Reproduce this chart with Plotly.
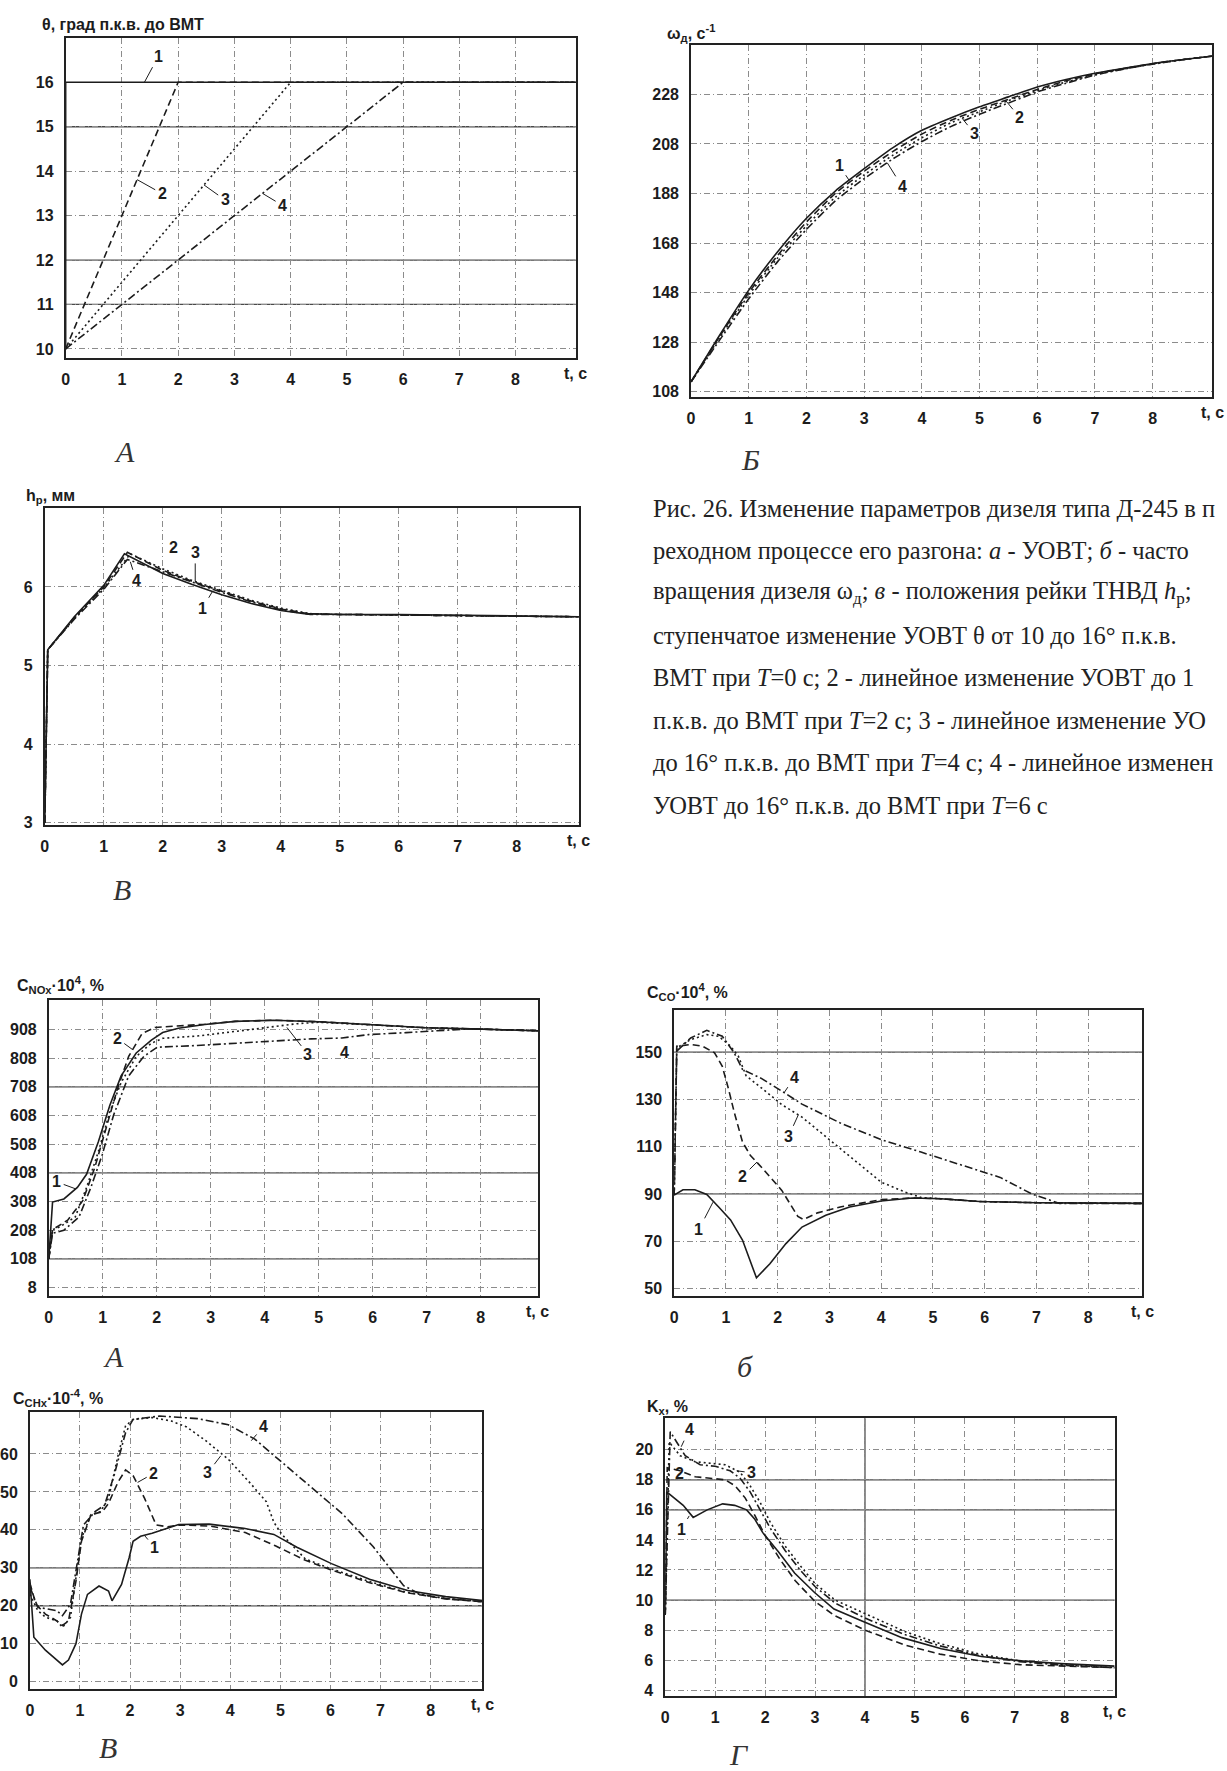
import plotly.graph_objects as go

W, H = 1227, 1771
INK = "#1c1c1c"
SANS = "Liberation Sans, Arial, sans-serif"
SERIF = "Liberation Serif, Times New Roman, serif"

# ---------------- data ----------------
# Panel A: injection advance angle theta
theta_t1 = [0, 0, 9.1]
theta_y1 = [10, 16, 16]
theta_t2 = [0, 2, 9.1]
theta_y2 = [10, 16, 16]
theta_t3 = [0, 4, 9.1]
theta_y3 = [10, 16, 16]
theta_t4 = [0, 6, 9.1]
theta_y4 = [10, 16, 16]
theta_yticks = [10, 11, 12, 13, 14, 15, 16]

# Panel B: engine speed omega
omega_t = [0, 0.5, 1, 1.5, 2, 2.5, 3, 3.5, 4, 4.5, 5, 5.5, 6, 6.5, 7, 7.5, 8, 8.5, 9.05]
omega_1 = [112, 131, 149, 164.5, 178, 189, 198, 206.5, 213.5, 218.5, 223, 227, 231, 234, 236.5, 238.5, 240.5, 242, 243.5]
omega_2 = [112, 130.5, 148, 163, 176.5, 188, 197, 205, 212, 217.5, 222, 226, 230, 233.5, 236.3, 238.4, 240.4, 242, 243.5]
omega_3 = [112, 130, 147, 162, 175, 186.5, 195.5, 203.5, 210.5, 216.5, 221, 225.5, 229.5, 233, 236, 238.3, 240.3, 242, 243.5]
omega_4 = [112, 129, 145.5, 160.5, 173.5, 185, 194, 202, 209, 215, 220, 224.5, 229, 232.5, 235.8, 238.2, 240.2, 241.9, 243.5]
omega_yticks = [108, 128, 148, 168, 188, 208, 228]

# Panel V: rack position h_p
hp_t1 = [0, 0.05, 0.5, 1.0, 1.35, 2, 2.5, 3, 3.5, 4, 4.4, 5, 6, 7, 8, 9.1]
hp_y1 = [3, 5.2, 5.62, 6.02, 6.42, 6.17, 6.03, 5.9, 5.79, 5.7, 5.66, 5.65, 5.65, 5.64, 5.63, 5.62]
hp_t2 = [0, 0.05, 0.5, 1.0, 1.4, 2, 2.5, 3, 3.5, 4, 4.45, 5, 9.1]
hp_y2 = [3, 5.2, 5.61, 6.0, 6.44, 6.21, 6.07, 5.94, 5.82, 5.72, 5.66, 5.65, 5.62]
hp_t3 = [0, 0.05, 0.5, 1.0, 1.45, 2, 2.5, 3, 3.5, 4, 4.5, 5, 9.1]
hp_y3 = [3, 5.2, 5.6, 5.99, 6.42, 6.23, 6.08, 5.95, 5.83, 5.73, 5.66, 5.65, 5.62]
hp_t4 = [0, 0.05, 0.5, 1.0, 1.4, 2, 2.5, 3, 3.5, 4, 4.5, 5, 9.1]
hp_y4 = [3, 5.2, 5.59, 5.97, 6.35, 6.19, 6.06, 5.93, 5.81, 5.71, 5.65, 5.65, 5.62]
hp_yticks = [3, 4, 5, 6]

# Panel NOx
nox_t1 = [0, 0.07, 0.28, 0.53, 0.7, 0.92, 1.13, 1.34, 1.62, 1.9, 2.11, 2.4, 2.89, 3.45, 4.16, 5.0, 5.92, 6.98, 8.03, 9.1]
nox_y1 = [108, 306, 317, 357, 403, 517, 643, 746, 826, 871, 897, 912, 925, 936, 940, 935, 925, 914, 909, 903]
nox_t2 = [0, 0.07, 0.35, 0.63, 0.85, 1.06, 1.27, 1.48, 1.73, 1.97, 2.4, 2.89, 3.45, 4.16, 5.0, 5.92, 6.98, 8.03, 9.1]
nox_y2 = [108, 210, 243, 311, 425, 563, 700, 814, 894, 915, 920, 926, 936, 940, 935, 925, 914, 909, 903]
nox_t3 = [0, 0.07, 0.21, 0.49, 0.7, 0.92, 1.13, 1.34, 1.62, 1.9, 2.11, 2.75, 3.45, 4.16, 4.6, 5.0, 5.92, 6.98, 8.03, 9.1]
nox_y3 = [108, 210, 220, 254, 357, 483, 620, 723, 814, 860, 877, 885, 901, 917, 928, 933, 925, 914, 909, 903]
nox_t4 = [0, 0.07, 0.28, 0.56, 0.78, 0.99, 1.2, 1.48, 1.76, 2.01, 2.75, 3.45, 4.16, 4.86, 5.43, 5.92, 6.62, 7.33, 7.8, 8.03, 9.1]
nox_y4 = [108, 197, 208, 254, 357, 471, 609, 746, 814, 846, 852, 859, 868, 875, 878, 890, 897, 906, 910, 909, 903]
nox_yticks = [8, 108, 208, 308, 408, 508, 608, 708, 808, 908]

# Panel CO
co_t1 = [0, 0.17, 0.4, 0.63, 0.86, 1.09, 1.32, 1.59, 1.85, 2.16, 2.47, 2.93, 3.39, 4.0, 4.6, 5.15, 5.9, 7.0, 9.1]
co_y1 = [89.5, 91.8, 91.8, 89.8, 84.5, 79, 70.5, 54.5, 60.5, 69, 76, 81, 84.5, 87, 88.3, 88, 86.8, 86.3, 86]
co_t2 = [0, 0.05, 0.32, 0.55, 0.78, 0.93, 1.05, 1.16, 1.32, 1.47, 1.7, 2.08, 2.39, 2.5, 2.77, 3.23, 4.0, 4.6, 5.15, 5.9, 7.0, 9.1]
co_y2 = [89.5, 152.5, 153.2, 152.5, 149.7, 144, 134.4, 124.6, 112, 106.4, 101, 91.5, 80.5, 79.2, 82, 84.6, 87.6, 88.3, 88, 86.8, 86.3, 86]
co_t3 = [0, 0.05, 0.32, 0.63, 0.86, 1.09, 1.24, 1.39, 1.7, 2.08, 2.47, 2.93, 3.23, 3.62, 4.0, 4.46, 4.77, 5.15, 5.9, 7.0, 9.1]
co_y3 = [89.5, 151.8, 155.3, 157.4, 156.7, 152.5, 148.3, 140, 134.6, 127.8, 122.5, 114.2, 108.7, 101.8, 95, 90.8, 88.5, 88, 86.8, 86.3, 86]
co_t4 = [0, 0.05, 0.32, 0.63, 0.93, 1.16, 1.32, 1.7, 2.08, 2.47, 3.23, 4.0, 4.77, 5.53, 6.3, 6.91, 7.45, 8.0, 9.1]
co_y4 = [89.5, 150.4, 156, 159.2, 156.7, 149.7, 142.7, 138.7, 133.5, 128, 119.8, 113, 107.7, 102.5, 97, 90, 86, 86, 86]
co_yticks = [50, 70, 90, 110, 130, 150]

# Panel CHx
chx_t1 = [0, 0.02, 0.08, 0.31, 0.54, 0.65, 0.77, 0.92, 1.03, 1.15, 1.38, 1.57, 1.64, 1.83, 1.98, 2.06, 2.21, 2.44, 2.97, 3.58, 4.27, 4.87, 5.33, 6.02, 6.78, 7.54, 8.3, 9.1]
chx_y1 = [27, 23, 11.7, 8.3, 5.7, 4.4, 5.7, 10, 17.8, 23, 25.2, 23.9, 21.3, 25.6, 32.6, 37, 38.3, 39.1, 41.4, 41.5, 40.4, 38.8, 35.4, 31.1, 27, 24, 22.4, 21.3]
chx_t2 = [0, 0.12, 0.31, 0.54, 0.65, 0.77, 0.92, 1.03, 1.22, 1.45, 1.57, 1.76, 1.91, 2.06, 2.29, 2.52, 2.75, 3.0, 3.6, 4.3, 4.9, 5.5, 6.0, 6.8, 7.5, 8.3, 9.1]
chx_y2 = [26, 20.4, 17.8, 16, 14.8, 16, 26.5, 37, 44, 44.8, 47, 52.6, 55.8, 54.3, 48.3, 41.3, 40.8, 41.3, 41, 39.3, 35.8, 32, 29.5, 26, 23.5, 21.8, 21]
chx_t3 = [0, 0.16, 0.31, 0.54, 0.65, 0.81, 0.92, 1.03, 1.22, 1.41, 1.57, 1.76, 1.91, 2.06, 2.44, 2.82, 3.13, 3.51, 3.96, 4.42, 4.72, 4.87, 5.03, 5.5, 6.0, 6.8, 7.5, 8.3, 9.1]
chx_y3 = [23, 18.7, 17, 16, 14.3, 16.9, 27.4, 37.8, 44, 44.8, 48.3, 59.6, 67.4, 69.1, 69.6, 68.7, 67.1, 63.5, 58.6, 52, 47.4, 42, 38.8, 32.3, 29.8, 26.3, 23.6, 21.9, 21]
chx_t4 = [0, 0.16, 0.54, 0.65, 0.81, 0.92, 1.07, 1.3, 1.49, 1.68, 1.91, 2.06, 2.59, 3.35, 3.96, 4.49, 5.03, 5.63, 6.24, 6.85, 7.15, 7.46, 7.8, 8.3, 9.1]
chx_y4 = [25, 19.6, 18.7, 17.4, 20.4, 29.1, 41.3, 44.8, 46.5, 54.3, 65.6, 69.1, 70, 69.3, 67.7, 63.9, 57.9, 51.1, 44.2, 35.6, 30.5, 25.3, 23, 21.9, 21]
chx_yticks = [0, 10, 20, 30, 40, 50, 60]

# Panel Kx
kx_t1 = [0, 0.03, 0.36, 0.56, 0.84, 1.15, 1.39, 1.63, 1.79, 1.95, 2.27, 2.59, 2.99, 3.38, 3.94, 4.74, 5.53, 6.33, 7.13, 7.92, 9.0]
kx_y1 = [9, 17.2, 16.3, 15.5, 16, 16.4, 16.3, 16, 15.4, 14.5, 13.2, 11.8, 10.5, 9.4, 8.6, 7.5, 6.76, 6.24, 5.95, 5.77, 5.6]
kx_t2 = [0, 0.04, 0.3, 0.6, 0.9, 1.2, 1.4, 1.6, 1.8, 2.0, 2.3, 2.6, 3.0, 3.4, 4.0, 4.8, 5.5, 6.3, 7.1, 8.0, 9.0]
kx_y2 = [9, 18.8, 18.6, 18.2, 18.1, 18.0, 17.6, 16.8, 15.6, 14.3, 12.7, 11.3, 9.9, 8.95, 8.0, 7.0, 6.4, 5.95, 5.7, 5.6, 5.5]
kx_t3 = [0, 0.08, 0.3, 0.6, 0.9, 1.2, 1.5, 1.7, 1.9, 2.1, 2.4, 2.7, 3.0, 3.4, 4.0, 4.8, 5.5, 6.3, 7.1, 8.0, 9.0]
kx_y3 = [9, 20.5, 19.6, 19.2, 19.1, 19.0, 18.5, 17.6, 16.5, 15.2, 13.6, 12.3, 11.1, 10.0, 9.1, 7.9, 7.1, 6.4, 5.95, 5.7, 5.5]
kx_t4 = [0, 0.1, 0.4, 0.7, 1.0, 1.3, 1.5, 1.7, 1.9, 2.1, 2.4, 2.7, 3.0, 3.4, 4.0, 4.8, 5.5, 6.3, 7.1, 8.0, 9.0]
kx_y4 = [9, 21.2, 19.6, 19.0, 18.9, 18.6, 18.1, 17.2, 16.0, 14.8, 13.3, 12.0, 10.9, 9.8, 8.8, 7.7, 6.95, 6.3, 5.9, 5.65, 5.5]
kx_yticks = [4, 6, 8, 10, 12, 14, 16, 18, 20]

time_ticks = [0, 1, 2, 3, 4, 5, 6, 7, 8]

# caption, as much of each line as the page shows (the scan is cut at the right edge)
caption_lines = [
    "Рис. 26. Изменение параметров дизеля типа Д-245 в п",
    "реходном процессе его разгона: <i>а</i> - УОВТ; <i>б</i> - часто",
    "вращения дизеля ω<sub>д</sub>; <i>в</i> - положения рейки ТНВД <i>h</i><sub>р</sub>;",
    "ступенчатое изменение УОВТ θ от 10 до 16° п.к.в.",
    "ВМТ при <i>Т</i>=0 с; 2 - линейное изменение УОВТ до 1",
    "п.к.в. до ВМТ при <i>Т</i>=2 с; 3 - линейное изменение УО",
    "до 16° п.к.в. до ВМТ при <i>Т</i>=4 с; 4 - линейное изменен",
    "УОВТ до 16° п.к.в. до ВМТ при <i>Т</i>=6 с",
]

# ---------------- layout description ----------------
DASHES = ["solid", "7px,4px", "2px,3px", "8px,3px,2px,3px"]

panels = [
    dict(box=(59, 38, 572, 359), xr=[0, 9.07], yr=[9.8, 17.0], yt=theta_yticks,
         series=[(theta_t1, theta_y1), (theta_t2, theta_y2), (theta_t3, theta_y3), (theta_t4, theta_y4)],
         title="θ, град п.к.в. до ВМТ", tpos=(33, 25), solid=[15, 12, 11], vsolid=[],
         labels=[("1", 1.4, 16.0, 14, -26), ("2", 1.27, 13.81, 25, 14), ("3", 2.46, 13.69, 21, 15), ("4", 3.5, 13.5, 20, 12)],
         letter=("А", 118, 453), spline=False),
    dict(box=(688, 45, 1212, 398), xr=[0, 9.03], yr=[106, 248], yt=omega_yticks,
         series=[(omega_t, omega_1), (omega_t, omega_2), (omega_t, omega_3), (omega_t, omega_4)],
         title="ω<sub>д</sub>, с<sup>-1</sup>", tpos=(662, 33), solid=[], vsolid=[],
         labels=[("1", 2.74, 193.3, -10, -15), ("4", 3.4, 200.4, 15, 24), ("3", 4.7, 218.3, 12, 15), ("2", 5.45, 225.6, 14, 17)],
         letter=("Б", 748, 461), spline=True),
    dict(box=(38, 510, 575, 828), xr=[0, 9.05], yr=[2.97, 7.0], yt=hp_yticks,
         series=[(hp_t1, hp_y1), (hp_t2, hp_y2), (hp_t3, hp_y3), (hp_t4, hp_y4)],
         title="h<sub>р</sub>, мм", tpos=(17, 498), solid=[], vsolid=[],
         labels=[("2", 2.19, 6.5, None, None), ("3", 2.55, 6.07, 0, -29), ("4", 1.45, 6.32, 6, 19), ("1", 2.84, 5.94, -10, 17)],
         letter=("В", 116, 893), spline=False),
    dict(box=(42, 1003, 534, 1300), xr=[0, 9.06], yr=[-20, 1012], yt=nox_yticks,
         series=[(nox_t1, nox_y1), (nox_t2, nox_y2), (nox_t3, nox_y3), (nox_t4, nox_y4)],
         title="C<sub>NOx</sub>·10<sup>4</sup>, %", tpos=(8, 988), solid=[708, 408, 108], vsolid=[],
         labels=[("1", 0.5, 352, -19, -7), ("2", 1.55, 838, -15, -11), ("3", 4.41, 915, 21, 27), ("4", 5.29, 876, 10, 14)],
         letter=("А", 107, 1361), spline=False),
    dict(box=(671, 1013, 1142, 1300), xr=[0, 9.05], yr=[47, 168], yt=co_yticks,
         series=[(co_t1, co_y1), (co_t2, co_y2), (co_t3, co_y3), (co_t4, co_y4)],
         title="C<sub>CO</sub>·10<sup>4</sup>, %", tpos=(642, 995), solid=[150, 90], vsolid=[],
         labels=[("1", 0.75, 86.5, -14, 27), ("2", 1.6, 103.5, -14, 14), ("3", 2.4, 123.5, -10, 22), ("4", 2.13, 133, 10, -15)],
         letter=("б", 742, 1371), spline=False),
    dict(box=(23, 1417, 478, 1695), xr=[0, 9.03], yr=[-2, 71], yt=chx_yticks,
         series=[(chx_t1, chx_y1), (chx_t2, chx_y2), (chx_t3, chx_y3), (chx_t4, chx_y4)],
         title="C<sub>CHx</sub>·10<sup>-4</sup>, %", tpos=(4, 1403), solid=[30, 20], vsolid=[],
         labels=[("1", 2.29, 38.5, 10, 12), ("2", 2.15, 52.5, 16, -9), ("3", 3.81, 59.5, -13, 17), ("4", 4.42, 63.5, 12, -14)],
         letter=("В", 102, 1753), spline=False),
    dict(box=(662, 1423, 1114, 1702), xr=[0, 9.0], yr=[3.6, 22.1], yt=kx_yticks,
         series=[(kx_t1, kx_y1), (kx_t2, kx_y2), (kx_t3, kx_y3), (kx_t4, kx_y4)],
         title="K<sub>x</sub>, %", tpos=(642, 1412), solid=[18, 16, 10], vsolid=[4],
         labels=[("4", 0.32, 20.2, 8, -17), ("2", 0.28, 18.45, None, None), ("3", 1.43, 18.6, 15, 2), ("1", 0.48, 15.6, -8, 14)],
         letter=("Г", 736, 1760), spline=False),
]


def pxx(xp):
    return xp / W


def pxy(yp):
    return 1 - yp / H


fig = go.Figure()
layout = dict(width=W, height=H, margin=dict(l=0, r=0, t=0, b=0),
              paper_bgcolor="white", plot_bgcolor="white", showlegend=False)
annotations = []
shapes = []
LBL = dict(family=SANS, size=16, color=INK, weight="bold")

for i, p in enumerate(panels, start=1):
    xa = "x" if i == 1 else f"x{i}"
    ya = "y" if i == 1 else f"y{i}"
    x0, y0, x1, y1 = p["box"]
    common = dict(showline=True, mirror=True, linecolor="#222", linewidth=1.7,
                  showgrid=True, gridcolor="#8c8c8c", gridwidth=1, griddash="6px,3px,1px,3px",
                  zeroline=False, ticks="", tickfont=dict(family=SANS, size=16, color=INK, weight="bold"))
    layout["xaxis" if i == 1 else f"xaxis{i}"] = dict(
        common, domain=[pxx(x0), pxx(x1)], anchor=ya, range=p["xr"],
        tickmode="array", tickvals=time_ticks, ticklabelstandoff=6)
    layout["yaxis" if i == 1 else f"yaxis{i}"] = dict(
        common, domain=[pxy(y1), pxy(y0)], anchor=xa, range=p["yr"],
        tickmode="array", tickvals=p["yt"], ticklabelstandoff=7)

    for k, (tx, ty) in enumerate(p["series"]):
        fig.add_trace(go.Scatter(
            x=tx, y=ty, xaxis=xa, yaxis=ya, mode="lines", hoverinfo="skip",
            line=dict(color=INK, width=1.6, dash=DASHES[k],
                      shape="spline" if p["spline"] else "linear",
                      smoothing=0.6 if p["spline"] else 0)))

    for v in p["solid"]:
        shapes.append(dict(type="line", xref=f"{xa} domain", yref=ya, x0=0, x1=1, y0=v, y1=v,
                           line=dict(color="#4a4a4a", width=1.3), layer="below"))
    for v in p["vsolid"]:
        shapes.append(dict(type="line", xref=xa, yref=f"{ya} domain", x0=v, x1=v, y0=0, y1=1,
                           line=dict(color="#4a4a4a", width=1.3), layer="below"))

    # axis title (top-left)
    annotations.append(dict(x=pxx(p["tpos"][0]), y=pxy(p["tpos"][1]), xref="paper", yref="paper",
                            xanchor="left", yanchor="middle", showarrow=False, text=p["title"],
                            font=LBL))
    # "t, c" label
    annotations.append(dict(x=1, y=0, xref=f"{xa} domain", yref=f"{ya} domain", xanchor="center",
                            yanchor="top", yshift=-5, showarrow=False, text="t, с", font=LBL))
    # curve numbers
    for (txt, lx, ly, ax, ay) in p["labels"]:
        if ax is None:
            annotations.append(dict(x=lx, y=ly, xref=xa, yref=ya, text=txt, showarrow=False,
                                    xanchor="center", yanchor="middle", font=LBL))
        else:
            annotations.append(dict(x=lx, y=ly, xref=xa, yref=ya, text=txt, showarrow=True,
                                    ax=ax, ay=ay, arrowhead=0, arrowwidth=1, arrowcolor=INK,
                                    standoff=0, startstandoff=1, font=LBL))
    # italic panel letter
    lt, lxp, lyp = p["letter"]
    annotations.append(dict(x=pxx(lxp), y=pxy(lyp), xref="paper", yref="paper", showarrow=False,
                            xanchor="center", yanchor="middle", text=lt,
                            font=dict(family=SERIF, size=30, color="#333", style="italic")))

# caption
cap_y = [510, 552.6, 595, 637.7, 680, 723, 765.4, 808]
for line, yy in zip(caption_lines, cap_y):
    annotations.append(dict(x=pxx(648), y=pxy(yy), xref="paper", yref="paper", xanchor="left",
                            yanchor="middle", showarrow=False, text=line,
                            font=dict(family=SERIF, size=24.5, color="#222")))

layout["annotations"] = annotations
layout["shapes"] = shapes
fig.update_layout(**layout)
fig.write_html("out.html")
